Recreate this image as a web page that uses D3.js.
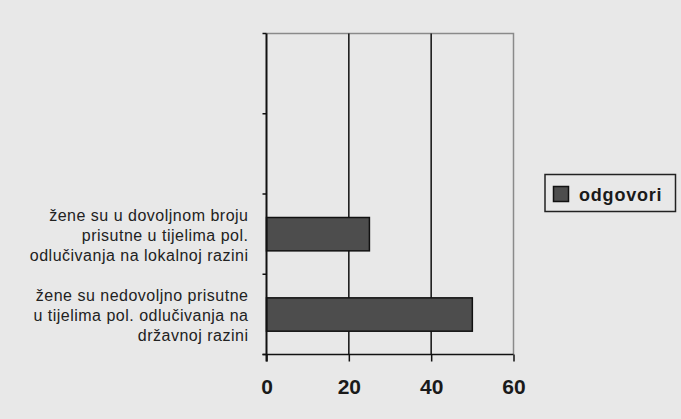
<!DOCTYPE html>
<html lang="hr">
<head>
<meta charset="UTF-8">
<title>odgovori</title>
<script src="https://d3js.org/d3.v7.min.js"></script>
<style>
  body { margin: 0; padding: 0; background: #e8e8e8; }
  svg { display: block; font-family: "Liberation Sans", Arial, Helvetica, sans-serif; }
</style>
</head>
<body>
<script>
  // podaci
  const categories = [
    [],
    [],
    ["žene su u dovoljnom broju", "prisutne u tijelima pol.", "odlučivanja na lokalnoj razini"],
    ["žene su nedovoljno prisutne", "u tijelima pol. odlučivanja na", "državnoj razini"]
  ];
  const values = [null, null, 25, 50];
  const xTicks = [0, 20, 40, 60];
  const seriesName = "odgovori";

  const width = 681, height = 419;
  const pLeft = 266.5, pRight = 513.5, pTop = 33.5, pBottom = 354.5;

  const svg = d3.select("body").append("svg")
    .attr("width", width)
    .attr("height", height);

  svg.append("rect")
    .attr("width", width).attr("height", height)
    .attr("fill", "#e8e8e8");

  const x = d3.scaleLinear().domain([0, 60]).range([pLeft, pRight]);
  const y = d3.scaleBand()
    .domain(d3.range(categories.length))
    .range([pTop, pBottom])
    .paddingInner(0.585)
    .paddingOuter(0.29);

  // okvir (gore, desno)
  svg.append("path")
    .attr("d", `M${pLeft},${pTop}H${pRight}V${pBottom}`)
    .attr("fill", "none")
    .attr("stroke", "#8a8a8a")
    .attr("stroke-width", 1.5);

  // mreža
  svg.selectAll(".grid")
    .data(xTicks.filter(d => d > 0 && d < 60))
    .join("line")
    .attr("x1", d => x(d)).attr("x2", d => x(d))
    .attr("y1", pTop).attr("y2", pBottom)
    .attr("stroke", "#111")
    .attr("stroke-width", 1.5);

  // stupci
  const bars = categories.map((c, i) => ({ i, v: values[i] })).filter(d => d.v != null);
  svg.selectAll(".bar")
    .data(bars)
    .join("rect")
    .attr("x", x(0))
    .attr("y", d => y(d.i))
    .attr("width", d => x(d.v) - x(0))
    .attr("height", y.bandwidth())
    .attr("fill", "#4d4d4d")
    .attr("stroke", "#111")
    .attr("stroke-width", 1.5);

  // x os
  const xAxis = svg.append("g")
    .attr("transform", `translate(0,${pBottom})`)
    .call(d3.axisBottom(x).tickValues(xTicks).tickSize(7).tickPadding(18).tickSizeOuter(0));
  xAxis.select(".domain").attr("stroke", "#111").attr("stroke-width", 1.5)
    .attr("d", `M${pLeft - 4},0H${pRight}`);
  xAxis.selectAll(".tick line").attr("stroke", "#111").attr("stroke-width", 1.5);
  xAxis.selectAll(".tick text")
    .attr("fill", "#1a1a1a")
    .attr("font-size", 21)
    .attr("font-weight", "bold")
    .attr("font-family", "\"Liberation Sans\", Arial, sans-serif");

  // y os
  const yTickPos = d3.range(categories.length + 1).map(i => pTop + (pBottom - pTop) * i / categories.length);
  svg.append("line")
    .attr("x1", pLeft).attr("x2", pLeft)
    .attr("y1", pTop).attr("y2", pBottom + 7)
    .attr("stroke", "#111").attr("stroke-width", 2);
  svg.selectAll(".ytick")
    .data(yTickPos)
    .join("line")
    .attr("x1", pLeft - 4).attr("x2", pLeft)
    .attr("y1", d => d).attr("y2", d => d)
    .attr("stroke", "#111").attr("stroke-width", 1.5);

  // natpisi kategorija
  categories.forEach((lines, i) => {
    if (!lines.length) return;
    const cy = y(i) + y.bandwidth() / 2 + 1;
    const t = svg.append("text")
      .attr("text-anchor", "end")
      .attr("fill", "#222")
      .attr("font-size", 16)
      .attr("letter-spacing", 0.5);
    lines.forEach((ln, k) => {
      t.append("tspan")
        .attr("x", 248.5)
        .attr("y", cy + (k - (lines.length - 1) / 2) * 20)
        .attr("dy", "0.35em")
        .text(ln);
    });
  });

  // legenda
  const lg = svg.append("g");
  lg.append("rect")
    .attr("x", 545).attr("y", 174.5)
    .attr("width", 130.5).attr("height", 37)
    .attr("fill", "#e8e8e8")
    .attr("stroke", "#222").attr("stroke-width", 1.5);
  lg.append("rect")
    .attr("x", 553.5).attr("y", 186.5)
    .attr("width", 15).attr("height", 15)
    .attr("fill", "#4d4d4d")
    .attr("stroke", "#111").attr("stroke-width", 1.5);
  lg.append("text")
    .attr("x", 579).attr("y", 201)
    .attr("fill", "#1a1a1a")
    .attr("font-size", 18)
    .attr("font-weight", "bold")
    .attr("letter-spacing", 0.8)
    .text(seriesName);
</script>
</body>
</html>
